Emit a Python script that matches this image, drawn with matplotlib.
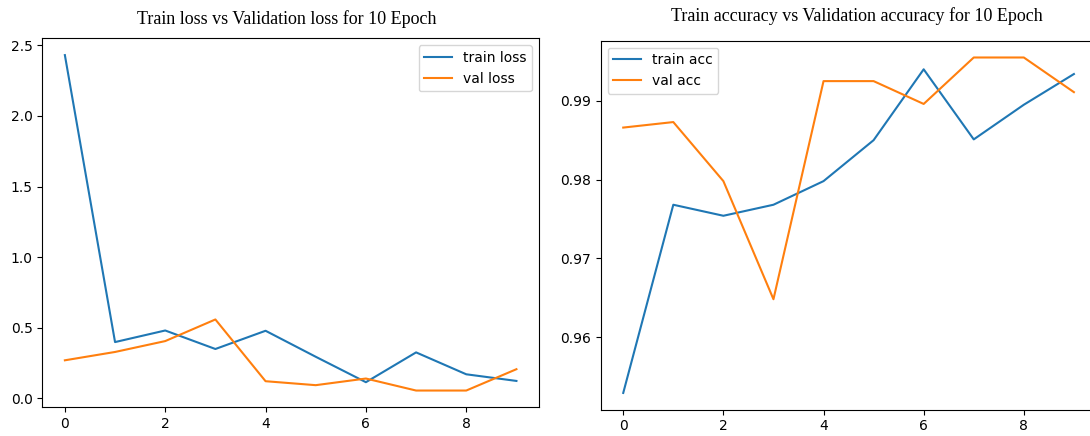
import matplotlib
matplotlib.use("Agg")
import matplotlib.pyplot as plt

epochs = list(range(10))

train_loss = [2.43, 0.399, 0.481, 0.350, 0.479, 0.295, 0.115, 0.326, 0.171, 0.124]
val_loss = [0.270, 0.329, 0.406, 0.559, 0.122, 0.094, 0.141, 0.056, 0.056, 0.207]

train_acc = [0.9529, 0.9768, 0.9754, 0.9768, 0.9798, 0.9850, 0.9940, 0.9851, 0.9895, 0.9934]
val_acc = [0.9866, 0.9873, 0.9798, 0.9648, 0.9925, 0.9925, 0.9896, 0.9955, 0.9955, 0.9911]

title_font = dict(family="Liberation Serif", fontsize=13)

fig = plt.figure(figsize=(10.9, 4.36), dpi=100)

# loss panel
ax1 = fig.add_axes([0.0388, 0.0658, 0.4557, 0.8463])
ax1.plot(epochs, train_loss, label="train loss")
ax1.plot(epochs, val_loss, label="val loss")
ax1.legend(loc="upper right")
fig.text(286.8 / 1090, 1 - 24.3 / 436, "Train loss vs Validation loss for 10 Epoch",
         ha="center", va="baseline", **title_font)

# accuracy panel (runs slightly past the right edge)
ax2 = fig.add_axes([0.5511, 0.0603, 0.4548, 0.8463])
ax2.plot(epochs, train_acc, label="train acc")
ax2.plot(epochs, val_acc, label="val acc")
ax2.legend(loc="upper left")
fig.text(857.3 / 1090, 1 - 20.7 / 436, "Train accuracy vs Validation accuracy for 10 Epoch",
         ha="center", va="baseline", **title_font)

fig.savefig("out.png", dpi=100)
